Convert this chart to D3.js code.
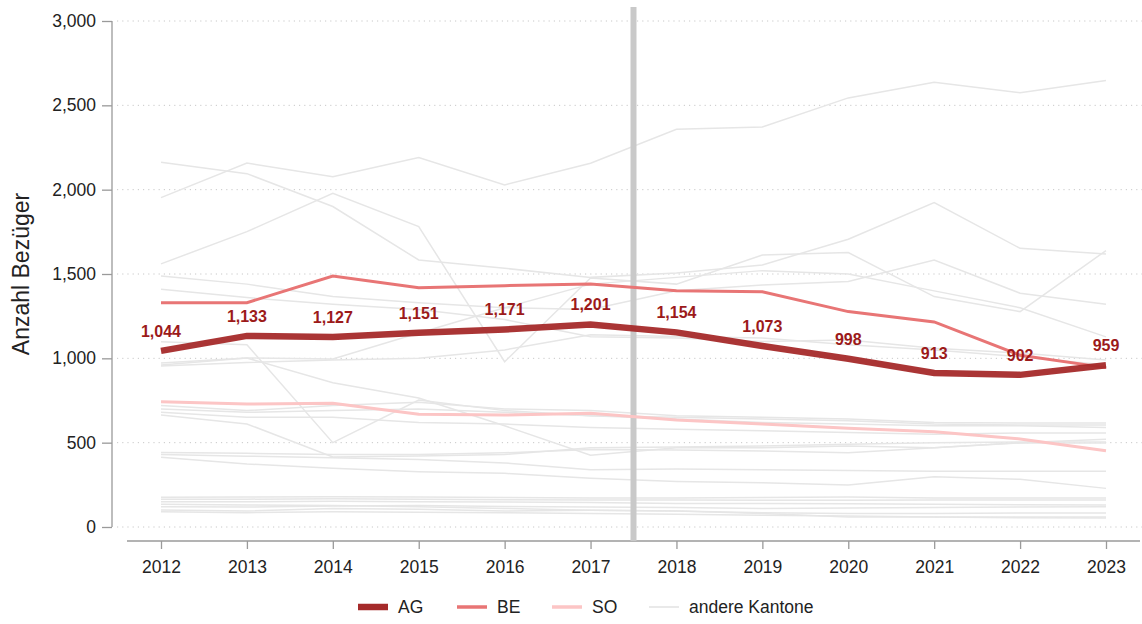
<!DOCTYPE html>
<html>
<head>
<meta charset="utf-8">
<script src="https://cdn.jsdelivr.net/npm/d3@7"></script>
<style>
  body { margin: 0; background: #fff; }
  text { font-family: "Liberation Sans", Arial, sans-serif; }
</style>
</head>
<body>
<script>
// years on the x axis
const years = [2012, 2013, 2014, 2015, 2016, 2017, 2018, 2019, 2020, 2021, 2022, 2023];
const yTicks = [0, 500, 1000, 1500, 2000, 2500, 3000];

// highlighted cantons
const ag = [1044, 1133, 1127, 1151, 1171, 1201, 1154, 1073, 998, 913, 902, 959];
const be = [1330, 1330, 1488, 1419, 1431, 1441, 1401, 1395, 1277, 1216, 1018, 945];
const so = [743, 729, 733, 668, 664, 674, 634, 611, 585, 565, 522, 452];

// other cantons (approximate)
const others = [
  [1953, 2158, 2077, 2190, 2028, 2157, 2358, 2372, 2544, 2637, 2574, 2647],
  [2163, 2095, 1900, 1583, 1534, 1480, 1506, 1554, 1706, 1923, 1652, 1619],
  [1560, 1751, 1979, 1781, 980, 1476, 1440, 1613, 1627, 1366, 1277, 1639],
  [1488, 1440, 1366, 1330, 1300, 1290, 1400, 1435, 1455, 1583, 1386, 1321],
  [1410, 1360, 1320, 1290, 1230, 1128, 1120, 1100, 1109, 1060, 1031, 990],
  [972, 1002, 996, 1150, 1300, 1440, 1480, 1520, 1500, 1400, 1300, 1127],
  [955, 975, 990, 1000, 1050, 1140, 1130, 1120, 1080, 1050, 1010, 960],
  [1099, 1080, 500, 753, 690, 660, 640, 620, 610, 600, 600, 590],
  [960, 1002, 855, 765, 600, 425, 470, 470, 480, 470, 500, 520],
  [720, 690, 720, 740, 700, 690, 660, 650, 640, 620, 617, 617],
  [700, 680, 690, 700, 680, 660, 650, 640, 630, 610, 605, 605],
  [680, 650, 650, 620, 610, 590, 580, 570, 560, 550, 557, 557],
  [664, 611, 415, 421, 430, 470, 474, 480, 490, 500, 504, 504],
  [441, 437, 430, 430, 440, 460, 456, 450, 440, 470, 498, 498],
  [413, 374, 348, 328, 318, 289, 270, 262, 249, 298, 283, 229],
  [430, 420, 410, 400, 380, 340, 344, 340, 335, 330, 330, 330],
  [176, 178, 180, 178, 175, 172, 172, 175, 178, 172, 172, 172],
  [164, 165, 168, 165, 162, 160, 160, 158, 158, 160, 160, 160],
  [150, 150, 152, 150, 148, 145, 140, 140, 138, 135, 132, 130],
  [120, 118, 125, 128, 122, 118, 115, 110, 112, 115, 118, 120],
  [101, 95, 110, 105, 95, 100, 95, 85, 80, 80, 83, 83],
  [91, 85, 90, 88, 85, 80, 75, 70, 65, 60, 60, 59],
  [135, 130, 128, 120, 110, 100, 95, 80, 60, 60, 55, 53]
];

const legendItems = ["AG", "BE", "SO", "andere Kantone"];

const width = 1142, height = 624;
const svg = d3.select("body").append("svg")
  .attr("width", width)
  .attr("height", height);

const x = d3.scaleLinear().domain([2012, 2023]).range([161, 1106]);
const y = d3.scaleLinear().domain([0, 3000]).range([527, 21]);

const fmt = d3.format(",");

// dotted gridlines
svg.append("g")
  .selectAll("line")
  .data(yTicks)
  .join("line")
    .attr("x1", 117).attr("x2", 1142)
    .attr("y1", d => y(d)).attr("y2", d => y(d))
    .attr("stroke", "#c8c8c8")
    .attr("stroke-width", 1)
    .attr("stroke-dasharray", "1.2,4");

// y axis
const yAxis = svg.append("g")
  .attr("transform", "translate(112,0)")
  .call(d3.axisLeft(y).tickValues(yTicks).tickFormat(fmt).tickSize(10).tickPadding(6));
yAxis.select(".domain").attr("stroke", "#9a9a9a").attr("stroke-width", 1.3).attr("d", "M0," + y(3000) + "V" + y(0));
yAxis.selectAll(".tick line").attr("stroke", "#9a9a9a").attr("stroke-width", 1.3);
yAxis.selectAll(".tick text").attr("font-size", 17.5).attr("fill", "#222");

// x axis
const xAxis = svg.append("g")
  .attr("transform", "translate(0,541)")
  .call(d3.axisBottom(x).tickValues(years).tickFormat(d3.format("d")).tickSize(8).tickPadding(12));
xAxis.select(".domain").attr("stroke", "#9a9a9a").attr("stroke-width", 1.3).attr("d", "M127,0H1140");
xAxis.selectAll(".tick line").attr("stroke", "#9a9a9a").attr("stroke-width", 1.3);
xAxis.selectAll(".tick text").attr("font-size", 17.5).attr("fill", "#222");

// y axis title
svg.append("text")
  .attr("transform", "translate(29,274) rotate(-90)")
  .attr("text-anchor", "middle")
  .attr("font-size", 23)
  .attr("fill", "#222")
  .text("Anzahl Bezüger");

const line = d3.line()
  .x((d, i) => x(years[i]))
  .y(d => y(d));

// other cantons
svg.append("g")
  .selectAll("path")
  .data(others)
  .join("path")
    .attr("d", line)
    .attr("fill", "none")
    .attr("stroke", "#e6e6e6")
    .attr("stroke-width", 1.5);

// separator band between 2017 and 2018
svg.append("rect")
  .attr("x", x(2017.5) - 3)
  .attr("y", 7)
  .attr("width", 6)
  .attr("height", 534)
  .attr("fill", "#c9c9c9");

svg.append("path").datum(so)
  .attr("d", line).attr("fill", "none")
  .attr("stroke", "#fcc5c5").attr("stroke-width", 3);

svg.append("path").datum(be)
  .attr("d", line).attr("fill", "none")
  .attr("stroke", "#e87575").attr("stroke-width", 3);

svg.append("path").datum(ag)
  .attr("d", line).attr("fill", "none")
  .attr("stroke", "#a52a2a").attr("stroke-opacity", 0.95)
  .attr("stroke-width", 6.5);

// AG value labels
svg.append("g")
  .selectAll("text")
  .data(ag)
  .join("text")
    .attr("x", (d, i) => x(years[i]))
    .attr("y", d => y(d) - 14)
    .attr("text-anchor", "middle")
    .attr("font-size", 16)
    .attr("font-weight", "bold")
    .attr("fill", "#9c1a1a")
    .text(d => fmt(d));

// legend
const legendColors = ["#a52a2a", "#e87575", "#fcc5c5", "#e4e4e4"];
const legendWidths = [6.5, 3.5, 3.5, 1.6];
const legendX = [358, 457, 552, 649];
const lg = svg.append("g").selectAll("g")
  .data(legendItems)
  .join("g")
    .attr("transform", (d, i) => "translate(" + legendX[i] + ",607)");
lg.append("line")
  .attr("x1", 0).attr("x2", 30)
  .attr("stroke", (d, i) => legendColors[i])
  .attr("stroke-width", (d, i) => legendWidths[i]);
lg.append("text")
  .attr("x", 40).attr("y", 6)
  .attr("font-size", 17.5)
  .attr("fill", "#222")
  .text(d => d);
</script>
</body>
</html>
